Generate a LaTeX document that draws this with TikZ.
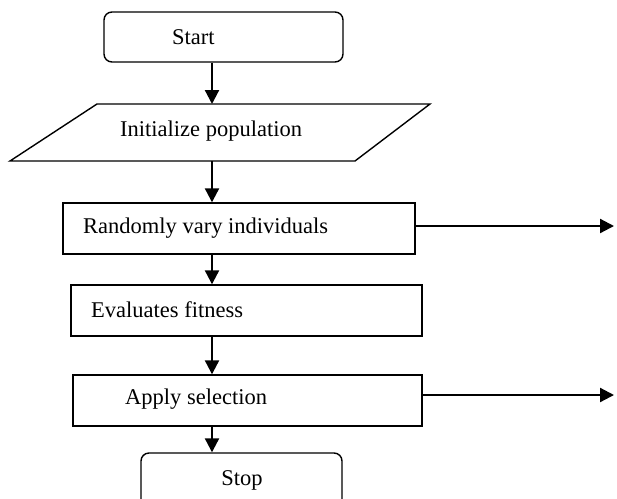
\documentclass[tikz,border=0pt]{standalone}
\usepackage{fontspec}
\setmainfont{Liberation Serif}
\usetikzlibrary{arrows.meta}
\begin{document}
\begin{tikzpicture}[x=1pt,y=-1pt,
  box/.style={draw,line width=1.4pt,inner sep=0pt},
  rbox/.style={box,rounded corners=8pt},
  lbl/.style={font=\fontsize{22.5}{26}\selectfont,inner sep=0pt,anchor=west},
  flow/.style={line width=2.2pt,-{Triangle[length=14pt,width=14pt]}}]
\useasboundingbox (0,0) rectangle (617,498);
% boxes
\node[rbox,minimum width=239pt,minimum height=50pt] (start) at (223.5,37) {};
\node[lbl] (starttxt) at (172,37) {Start};
\draw[line width=1.4pt] (97,104) coordinate (initTL) -- (430,104) coordinate (initTR)
  -- (355,161) coordinate (initBR) -- (10,161) coordinate (initBL) -- cycle;
\node[lbl] (init) at (120,131) {Initialize population};
\coordinate (initTop) at (212,104);
\coordinate (initBot) at (212,161);
\node[box,minimum width=352pt,minimum height=51pt] (vary) at (239,228.5) {};
\node[lbl] (varytxt) at (83,228) {Randomly vary individuals};
\node[box,minimum width=351pt,minimum height=51pt] (eval) at (246.5,310.5) {};
\node[lbl] (evaltxt) at (91,310) {Evaluates fitness};
\node[box,minimum width=349pt,minimum height=51pt] (sel) at (247.5,400.5) {};
\node[lbl] (seltxt) at (125,399) {Apply selection};
\node[rbox,minimum width=201pt,minimum height=56pt] (stop) at (241.5,481) {};
\node[lbl,anchor=center] (stoptxt) at (242,480) {Stop};
% connectors
\coordinate (ax) at (212,0);
\draw[flow] (start.south -| ax) -- (initTop);
\draw[flow] (initBot) -- (vary.north -| ax);
\draw[flow] (vary.south -| ax) -- (eval.north -| ax);
\draw[flow] (eval.south -| ax) -- (sel.north -| ax);
\draw[flow] (sel.south -| ax) -- (stop.north -| ax);
\coordinate (out1) at (614,226);
\coordinate (out2) at (614,395);
\draw[flow] (vary.east |- out1) -- (out1);
\draw[flow] (sel.east |- out2) -- (out2);
\end{tikzpicture}
\end{document}
